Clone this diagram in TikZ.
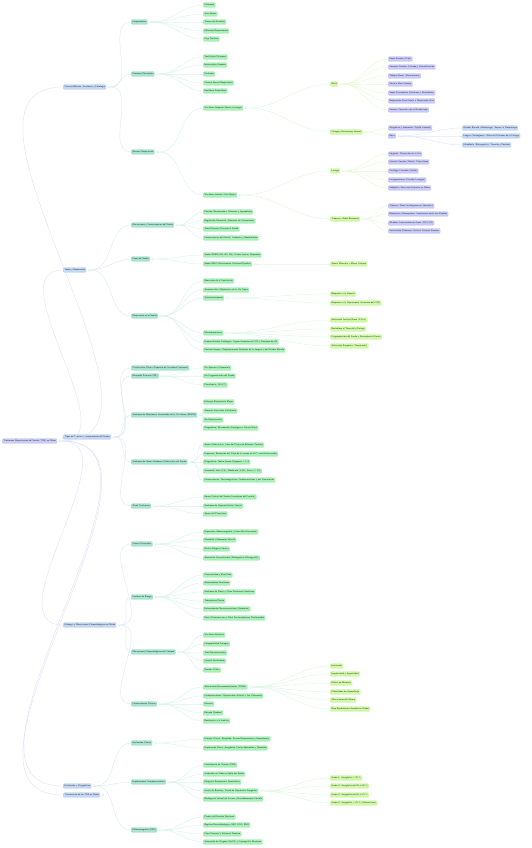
\documentclass[tikz,border=0pt]{standalone}
\usetikzlibrary{positioning}
\definecolor{cRoot}{HTML}{C9CDF8}
\definecolor{cOne}{HTML}{C3D7F2}
\definecolor{cTwo}{HTML}{A8E4D0}
\definecolor{cThree}{HTML}{A8F0B8}
\definecolor{cFour}{HTML}{D0F8A8}
\definecolor{cFive}{HTML}{C8CBF8}
\definecolor{cSix}{HTML}{C3D6F4}
\definecolor{lRoot}{HTML}{E0E2FA}
\definecolor{lOne}{HTML}{DCE8F7}
\definecolor{lTwo}{HTML}{DAF3EA}
\definecolor{lThree}{HTML}{DDF7E2}
\definecolor{lFour}{HTML}{E6FAD6}
\definecolor{lFive}{HTML}{E0E2FA}
\tikzset{
  mm/.style={anchor=west, rounded corners=1pt, inner sep=1.3pt, minimum height=5.4pt,
    text=black!80, font=\fontsize{2.3}{2.6}\selectfont\sffamily},
  lv0/.style={mm, fill=cRoot},
  lv1/.style={mm, fill=cOne},
  lv2/.style={mm, fill=cTwo},
  lv3/.style={mm, fill=cThree},
  lv4/.style={mm, fill=cFour},
  lv5/.style={mm, fill=cFive},
  lv6/.style={mm, fill=cSix},
  ic/.style={circle, minimum size=2.6pt, inner sep=0pt, line width=0.3pt,
    path picture={\draw[line width=0.3pt] ([xshift=0.6pt]path picture bounding box.west)
      -- ([xshift=-0.6pt]path picture bounding box.east);}},
  cn/.style={line width=0.45pt, out=0, in=180}
}
% toggle circle right of a parent node
\newcommand{\tog}[2]{\node[ic, draw=#2, right=1.3pt of #1] (#1-i) {};}

\begin{document}
\begin{tikzpicture}[x=1pt, y=-1pt]
\useasboundingbox (0,0) rectangle (531,848);

% root and first level
\node[lv0] (root) at (2,441) {Trastornos Respiratorios del Sueño (TRS) en Niños};
\node[lv1] (a) at (63,87) {Ciencias Básicas: Anatomía y Fisiología};
\node[lv1] (b) at (63,270) {Sueño y Respiración};
\node[lv1] (c) at (63,437) {Tipos de Trastornos Respiratorios del Sueño};
\node[lv1] (d) at (63,625) {Etiología y Mecanismos Fisiopatológicos en Niños};
\node[lv1] (e) at (63,786) {Evaluación y Diagnóstico};
\node[lv1] (f) at (63,795) {Tratamiento de los TRS en Niños};

% second level
\node[lv2] (a1) at (131,22) {Componentes};
\node[lv2] (a2) at (131,74) {Procesos Principales};
\node[lv2] (a3) at (131,152) {Sistema Respiratorio};
\node[lv2] (b1) at (131,225) {Mecanismos y Consecuencias del Sueño};
\node[lv2] (b2) at (131,259) {Fases del Sueño};
\node[lv2] (b3) at (131,316) {Respiración en el Sueño};
\node[lv2] (c1) at (131,368) {Clasificación Clínica (Espectro de Gravedad Creciente)};
\node[lv2] (c2) at (131,376) {Ronquido Primario (RP)};
\node[lv2] (c3) at (131,415) {Síndrome de Resistencia Aumentada de la Vía Aérea (SRVAS)};
\node[lv2] (c4) at (131,462) {Síndrome de Apnea-Hipopnea Obstructiva del Sueño};
\node[lv2] (c5) at (131,506) {Otros Trastornos};
\node[lv2] (d1) at (131,544) {Causas Principales};
\node[lv2] (d2) at (131,597) {Factores de Riesgo};
\node[lv2] (d3) at (131,652) {Mecanismos Fisiopatológicos del Colapso};
\node[lv2] (d4) at (131,704) {Consecuencias Clínicas};
\node[lv2] (e1) at (131,743) {Evaluación Clínica};
\node[lv2] (e2) at (131,782) {Exploraciones Complementarias};
\node[lv2] (e3) at (131,830) {Polisomnografía (PSG)};

% third level
\node[lv3] (a1-1) at (203,5) {Pulmones};
\node[lv3] (a1-2) at (203,14) {Vías Aéreas};
\node[lv3] (a1-3) at (203,22) {Tronco del Encéfalo};
\node[lv3] (a1-4) at (203,31) {Músculos Respiratorios};
\node[lv3] (a1-5) at (203,39) {Caja Torácica};
\node[lv3] (a2-1) at (203,57) {Ventilación Pulmonar};
\node[lv3] (a2-2) at (203,65) {Intercambio Gaseoso};
\node[lv3] (a2-3) at (203,74) {Perfusión};
\node[lv3] (a2-4) at (203,83) {Control Neural Respiratorio};
\node[lv3] (a2-5) at (203,91) {Equilibrio Ácido-Base};
\node[lv3] (a3-1) at (203,108) {Vía Aérea Superior (Nariz a Laringe)};
\node[lv3] (a3-2) at (203,195) {Vía Aérea Inferior (Vías Bajas)};
\node[lv3] (b1-1) at (203,212) {Función Restauradora: Memoria y Aprendizaje};
\node[lv3] (b1-2) at (203,221) {Regulación Hormonal (Hormona de Crecimiento)};
\node[lv3] (b1-3) at (203,229) {Tono Muscular Durante el Sueño};
\node[lv3] (b1-4) at (203,238) {Consecuencias del Déficit: Conducta y Rendimiento};
\node[lv3] (b2-1) at (203,255) {Sueño NREM (N1, N2, N3): Ondas Lentas, Reparador};
\node[lv3] (b2-2) at (203,264) {Sueño REM (Movimientos Oculares Rápidos)};
\node[lv3] (b3-1) at (203,281) {Reducción de la Ventilación};
\node[lv3] (b3-2) at (203,290) {Aumento de la Resistencia de la Vía Aérea};
\node[lv3] (b3-3) at (203,298) {Quimiorreceptores};
\node[lv3] (b3-4) at (203,333) {Microdespertares};
\node[lv3] (b3-5) at (203,342) {Hipoventilación Fisiológica: Ligero Aumento de CO2 y Descenso de O2};
\node[lv3] (b3-6) at (203,350) {Posición Supina: Desplazamiento Posterior de la Lengua y del Paladar Blando};
\node[lv3] (c2-1) at (203,368) {Sin Apneas ni Hipoxemia};
\node[lv3] (c2-2) at (203,376) {Sin Fragmentación del Sueño};
\node[lv3] (c2-3) at (203,385) {Prevalencia: 10-12 \%};
\node[lv3] (c3-1) at (203,402) {Esfuerzo Respiratorio Mayor};
\node[lv3] (c3-2) at (203,411) {Arousals Asociados al Esfuerzo};
\node[lv3] (c3-3) at (203,420) {Sin Desaturación};
\node[lv3] (c3-4) at (203,428) {Diagnóstico: Manometría Esofágica o Cánula Nasal};
\node[lv3] (c4-1) at (203,445) {Apnea Obstructiva: Cese del Flujo con Esfuerzo Torácico};
\node[lv3] (c4-2) at (203,454) {Hipopnea: Reducción del Flujo de al menos un 30 \% con Desaturación};
\node[lv3] (c4-3) at (203,462) {Diagnóstico: Índice Apnea-Hipopnea > 1/h};
\node[lv3] (c4-4) at (203,471) {Gravedad: Leve (1-5), Moderado (5-10), Grave (> 10)};
\node[lv3] (c4-5) at (203,480) {Consecuencias: Neurocognitivas, Cardiovasculares y del Crecimiento};
\node[lv3] (c5-1) at (203,497) {Apnea Central del Sueño (Inmadurez del Control)};
\node[lv3] (c5-2) at (203,506) {Síndrome de Hipoventilación Central};
\node[lv3] (c5-3) at (203,514) {Apnea del Prematuro};
\node[lv3] (d1-1) at (203,532) {Hipertrofia Adenoamigdalar (Causa Más Frecuente)};
\node[lv3] (d1-2) at (203,540) {Obesidad y Sobrepeso Infantil};
\node[lv3] (d1-3) at (203,549) {Rinitis Alérgica Crónica};
\node[lv3] (d1-4) at (203,558) {Anomalías Craneofaciales (Retrognatia, Micrognatia)};
\node[lv3] (d2-1) at (203,575) {Prematuridad y Bajo Peso};
\node[lv3] (d2-2) at (203,583) {Antecedentes Familiares};
\node[lv3] (d2-3) at (203,592) {Síndrome de Down y Otros Síndromes Genéticos};
\node[lv3] (d2-4) at (203,601) {Tabaquismo Pasivo};
\node[lv3] (d2-5) at (203,609) {Enfermedades Neuromusculares (Hipotonía)};
\node[lv3] (d2-6) at (203,618) {Etnia Afroamericana y Nivel Socioeconómico Desfavorable};
\node[lv3] (d3-1) at (203,635) {Vía Aérea Estrecha};
\node[lv3] (d3-2) at (203,644) {Colapsabilidad Faríngea};
\node[lv3] (d3-3) at (203,653) {Tono Neuromuscular};
\node[lv3] (d3-4) at (203,661) {Control Ventilatorio};
\node[lv3] (d3-5) at (203,670) {Presión Crítica};
\node[lv3] (d4-1) at (203,687) {Alteraciones Neuroconductuales (TDAH)};
\node[lv3] (d4-2) at (203,696) {Cardiovasculares: Hipertensión Arterial y Cor Pulmonale};
\node[lv3] (d4-3) at (203,704) {Enuresis};
\node[lv3] (d4-4) at (203,713) {Retraso Ponderal};
\node[lv3] (d4-5) at (203,721) {Resistencia a la Insulina};
\node[lv3] (e1-1) at (203,739) {Historia Clínica: Ronquido, Pausas Respiratorias y Somnolencia};
\node[lv3] (e1-2) at (203,748) {Exploración Física: Amígdalas, Facies Adenoidea y Obesidad};
\node[lv3] (e2-1) at (203,765) {Cuestionario de Chervin (PSQ)};
\node[lv3] (e2-2) at (203,774) {Grabación en Vídeo o Audio del Sueño};
\node[lv3] (e2-3) at (203,782) {Poligrafía Respiratoria Domiciliaria};
\node[lv3] (e2-4) at (203,791) {Escala de Brodsky: Grado de Hipertrofia Amigdalar};
\node[lv3] (e2-5) at (203,799) {Radiografía Lateral de Cavum y Nasofibroscopia Flexible};
\node[lv3] (e3-1) at (203,817) {Prueba de Elección Nocturna};
\node[lv3] (e3-2) at (203,825) {Registro Neurofisiológico: EEG, EOG, EMG};
\node[lv3] (e3-3) at (203,834) {Flujo Oronasal y Esfuerzo Torácico};
\node[lv3] (e3-4) at (203,842) {Saturación de Oxígeno (SpO2) y Capnografía Nocturna};

% fourth level
\node[lv4] (nariz) at (330,84) {Nariz};
\node[lv4] (faringe) at (330,132) {Faringe y Estructuras Anexas};
\node[lv4] (laringe) at (330,171) {Laringe};
\node[lv4] (traquea) at (330,219) {Tráquea y Árbol Bronquial};
\node[lv4] (rem-1) at (330,264) {Atonía Muscular y Mayor Colapso};
\node[lv4] (quimio-1) at (330,294) {Respuesta a la Hipoxia};
\node[lv4] (quimio-2) at (330,303) {Respuesta a la Hipercapnia (Aumento del CO2)};
\node[lv4] (arousal-1) at (330,320) {Activación Cortical Breve (3-15 s)};
\node[lv4] (arousal-2) at (330,329) {Restablece el Tono de la Faringe};
\node[lv4] (arousal-3) at (330,337) {Fragmentación del Sueño y Somnolencia Diurna};
\node[lv4] (arousal-4) at (330,346) {Activación Simpática (Taquicardia)};
\node[lv4] (neuro-1) at (330,666) {Inatención};
\node[lv4] (neuro-2) at (330,674) {Impulsividad y Agresividad};
\node[lv4] (neuro-3) at (330,683) {Déficit de Memoria};
\node[lv4] (neuro-4) at (330,692) {Dificultades de Aprendizaje};
\node[lv4] (neuro-5) at (330,700) {Alteraciones del Ánimo};
\node[lv4] (neuro-6) at (330,709) {Bajo Rendimiento Académico Global};
\node[lv4] (brodsky-1) at (330,778) {Grado 1: Amígdalas < 25 \%};
\node[lv4] (brodsky-2) at (330,786) {Grado 2: Amígdalas del 25 al 50 \%};
\node[lv4] (brodsky-3) at (330,795) {Grado 3: Amígdalas del 50 al 75 \%};
\node[lv4] (brodsky-4) at (330,803) {Grado 4: Amígdalas > 75 \% (Obstructivas)};

% fifth and sixth level
\node[lv5] (nariz-1) at (388,59) {Fosas Nasales (Flujo)};
\node[lv5] (nariz-2) at (388,67) {Cornetes Nasales: Filtrado y Humidificación};
\node[lv5] (nariz-3) at (388,76) {Tabique Nasal (Desviaciones)};
\node[lv5] (nariz-4) at (388,84) {Válvula Nasal Interna};
\node[lv5] (nariz-5) at (388,93) {Senos Paranasales (Maxilares y Etmoidales)};
\node[lv5] (nariz-6) at (388,101) {Respiración Nasal frente a Respiración Oral};
\node[lv5] (nariz-7) at (388,110) {Coanas: Conexión con la Nasofaringe};
\node[lv5] (faringe-1) at (388,128) {Amígdalas y Adenoides (Tejido Linfoide)};
\node[lv5] (boca) at (388,136) {Boca};
\node[lv6] (boca-1) at (462,128) {Paladar Blando (Velofaringe): Separa la Nasofaringe};
\node[lv6] (boca-2) at (462,136) {Lengua (Geniogloso): Músculo Dilatador de la Faringe};
\node[lv6] (boca-3) at (462,145) {Mandíbula (Retrognatia): Tamaño y Posición};
\node[lv5] (laringe-1) at (388,154) {Epiglotis: Protección de la Vía};
\node[lv5] (laringe-2) at (388,162) {Cuerdas Vocales (Glotis): Flujo Aéreo};
\node[lv5] (laringe-3) at (388,171) {Cartílago Cricoides (Anillo)};
\node[lv5] (laringe-4) at (388,180) {Laringomalacia (Flacidez Laríngea)};
\node[lv5] (laringe-5) at (388,188) {Subglotis: Zona más Estrecha en Niños};
\node[lv5] (traquea-1) at (388,206) {Tráquea: Tubo Cartilaginoso en Herradura};
\node[lv5] (traquea-2) at (388,214) {Bronquios y Bronquiolos: Conducción hasta los Alvéolos};
\node[lv5] (traquea-3) at (388,223) {Alvéolos: Intercambio de Gases (O2/CO2)};
\node[lv5] (traquea-4) at (388,231) {Surfactante Pulmonar: Evita el Colapso Alveolar};

% toggles
\tog{root}{lRoot}
\foreach \n in {a,b,c,d,e,f} {\tog{\n}{lOne}}
\foreach \n in {a1,a2,a3,b1,b2,b3,c2,c3,c4,c5,d1,d2,d3,d4,e1,e2,e3} {\tog{\n}{lTwo}}
\foreach \n in {a3-1,a3-2,b2-2,b3-3,b3-4,d4-1,e2-4} {\tog{\n}{lThree}}
\foreach \n in {nariz,faringe,laringe,traquea} {\tog{\n}{lFour}}
\tog{boca}{lFive}

% connectors
\foreach \c in {a,b,c,d,e,f} \draw[cn, lRoot] (root-i.east) to (\c.west);
\foreach \c in {1,2,3} \draw[cn, lOne] (a-i.east) to (a\c.west);
\foreach \c in {1,2,3} \draw[cn, lOne] (b-i.east) to (b\c.west);
\foreach \c in {1,...,5} \draw[cn, lOne] (c-i.east) to (c\c.west);
\foreach \c in {1,...,4} \draw[cn, lOne] (d-i.east) to (d\c.west);
\foreach \c in {1,2,3} \draw[cn, lOne] (e-i.east) to (e\c.west);
\foreach \p/\k in {a1/5,a2/5,a3/2,b1/4,b2/2,b3/6,c2/3,c3/4,c4/5,c5/3,d1/4,d2/6,d3/5,d4/5,e1/2,e2/5,e3/4}
  \foreach \c in {1,...,\k} \draw[cn, lTwo] (\p-i.east) to (\p-\c.west);
\foreach \p/\c in {a3-1/nariz,a3-1/faringe,a3-2/laringe,a3-2/traquea,b2-2/rem-1,
  b3-3/quimio-1,b3-3/quimio-2,b3-4/arousal-1,b3-4/arousal-2,b3-4/arousal-3,b3-4/arousal-4,
  d4-1/neuro-1,d4-1/neuro-2,d4-1/neuro-3,d4-1/neuro-4,d4-1/neuro-5,d4-1/neuro-6,
  e2-4/brodsky-1,e2-4/brodsky-2,e2-4/brodsky-3,e2-4/brodsky-4}
  \draw[cn, lThree] (\p-i.east) to (\c.west);
\foreach \p/\k in {nariz/7,laringe/5,traquea/4}
  \foreach \c in {1,...,\k} \draw[cn, lFour] (\p-i.east) to (\p-\c.west);
\foreach \c in {faringe-1,boca} \draw[cn, lFour] (faringe-i.east) to (\c.west);
\foreach \c in {1,2,3} \draw[cn, lFive] (boca-i.east) to (boca-\c.west);
\end{tikzpicture}
\end{document}
